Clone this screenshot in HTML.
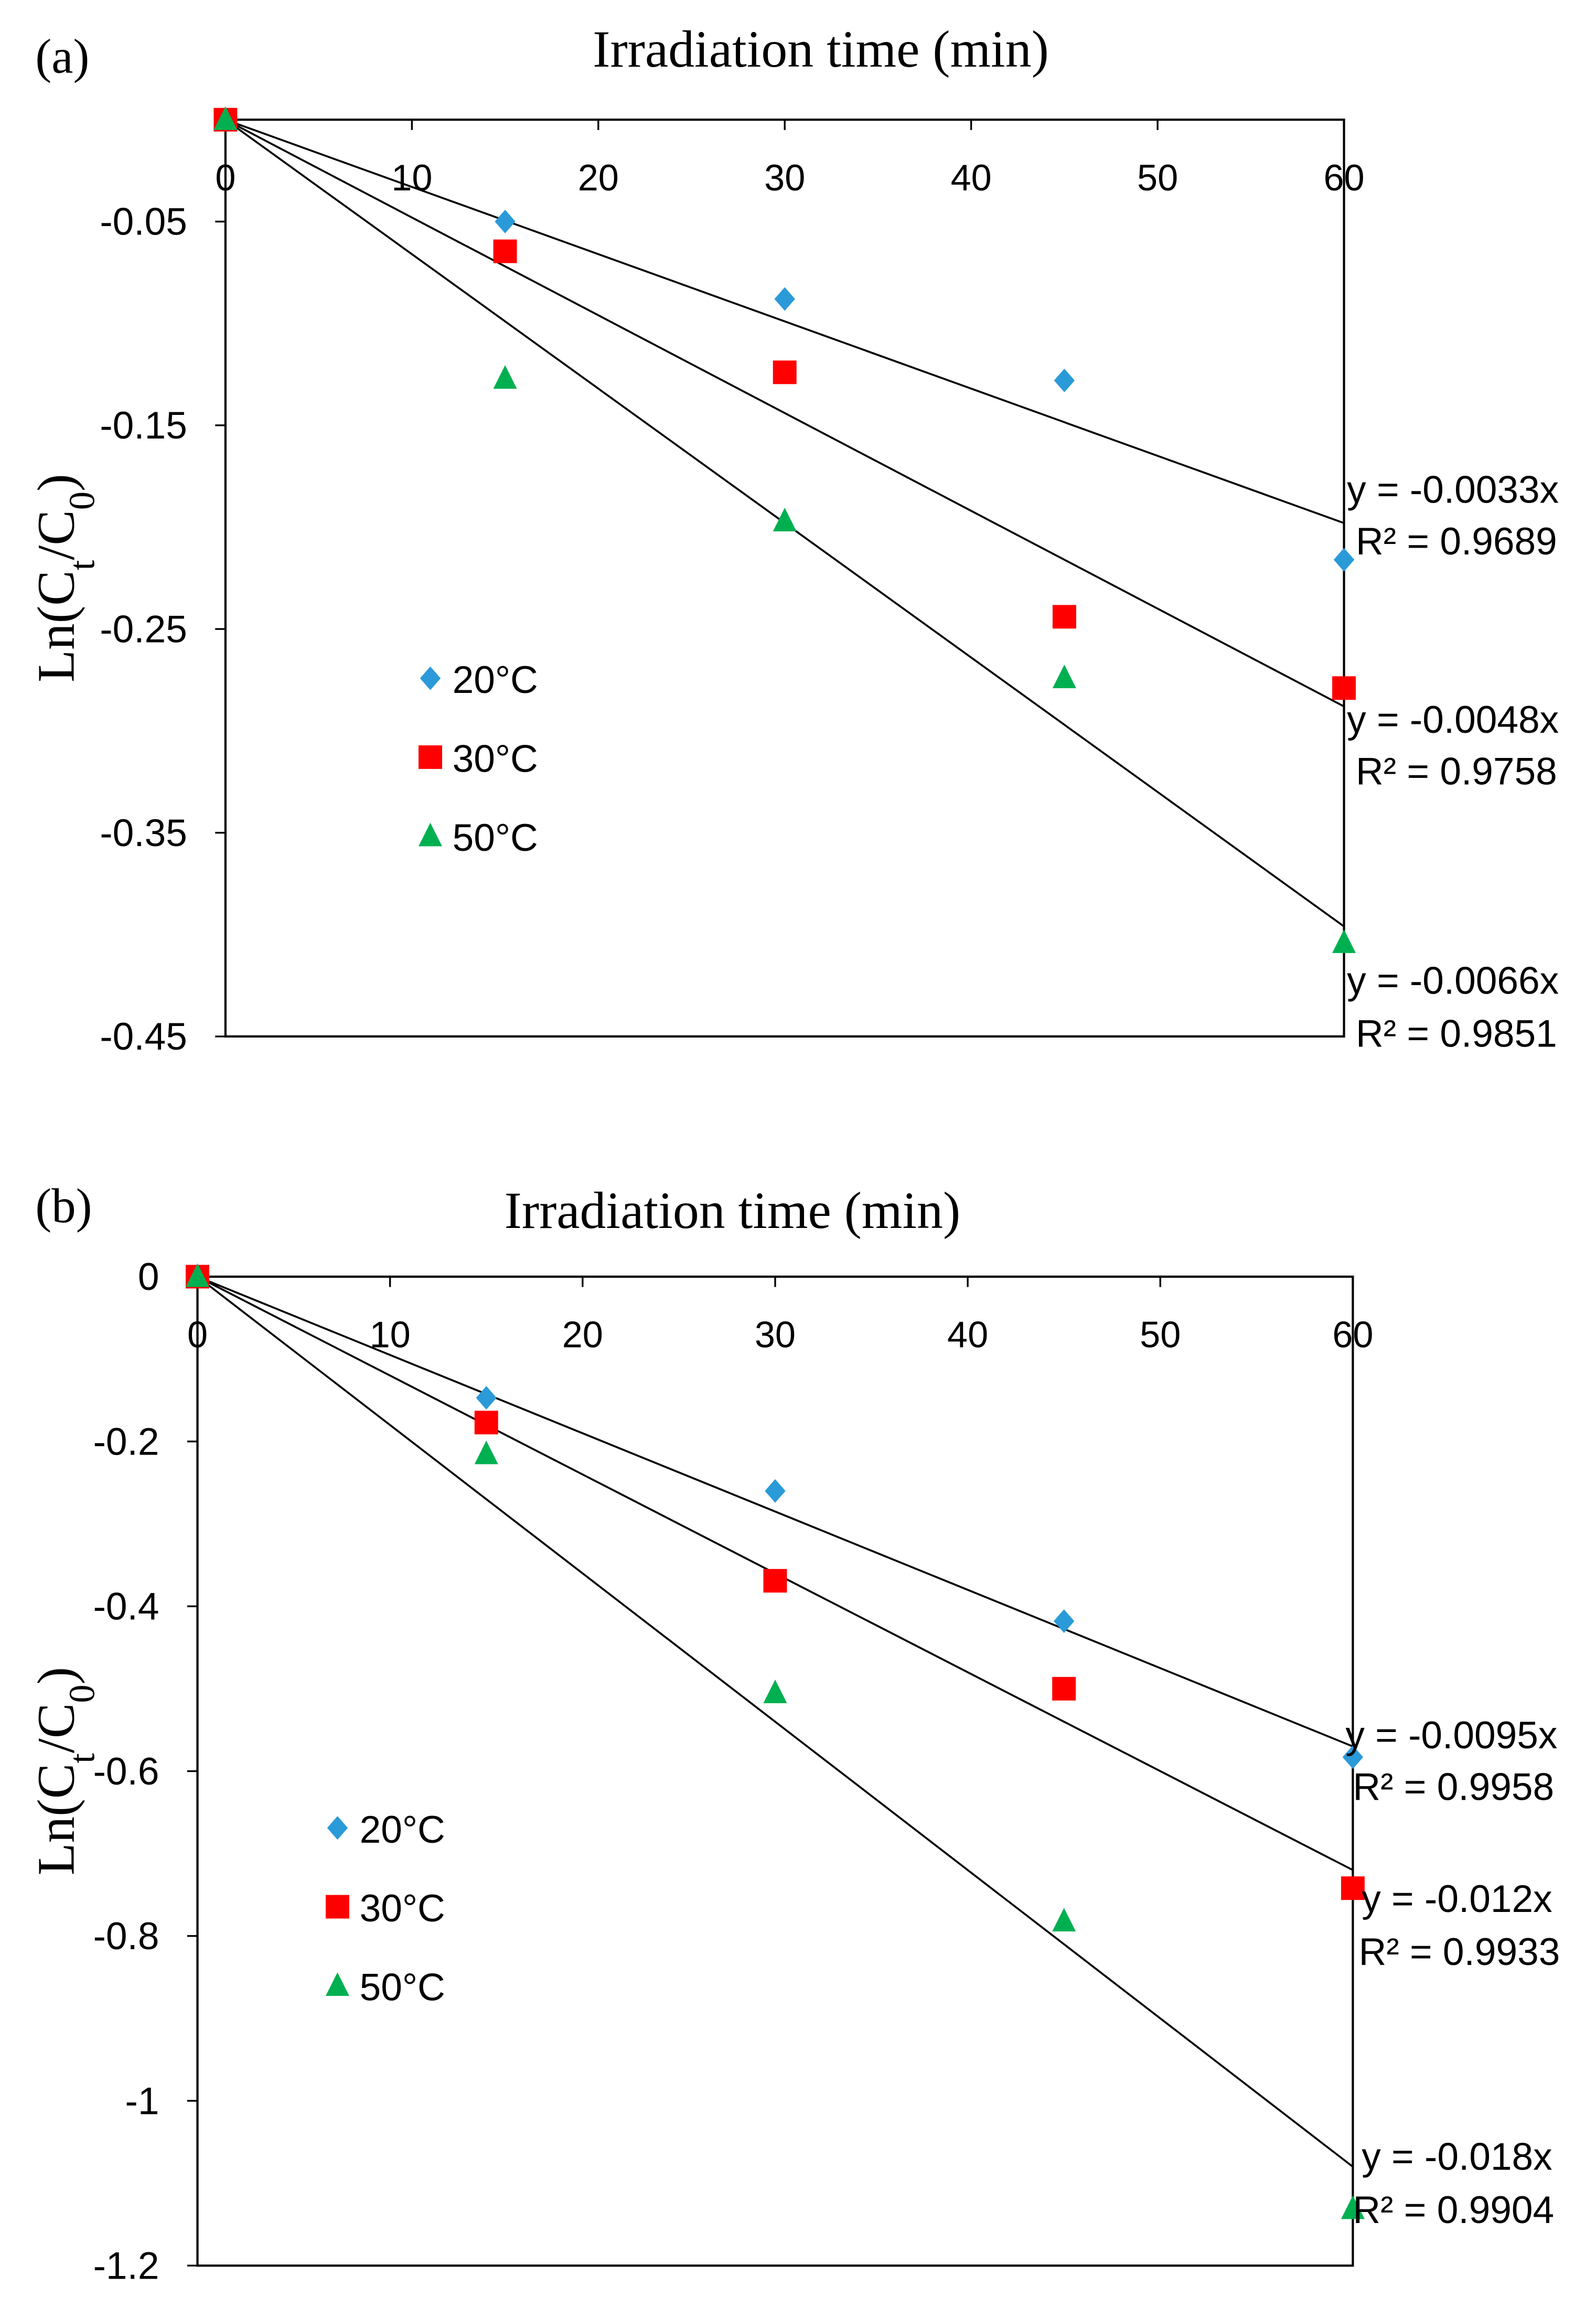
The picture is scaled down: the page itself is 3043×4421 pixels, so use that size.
<!DOCTYPE html>
<html><head><meta charset="utf-8"><style>
html,body{margin:0;padding:0;background:#fff;}
svg{display:block;}
</style></head><body>
<svg id="chart" width="3043" height="4421" viewBox="0 0 1083 1573" xmlns="http://www.w3.org/2000/svg">
<rect width="1083" height="1573" fill="#fff"/>
<g id="pa"></g>
<g id="pb"></g>
</svg>
<script>
const xCats = [0, 15, 30, 45, 60];
const xTicks = [0, 10, 20, 30, 40, 50, 60];
const seriesNames = ["20°C", "30°C", "50°C"];
const aSeries20 = [0, -0.050, -0.088, -0.128, -0.216];
const aSeries30 = [0, -0.0646, -0.124, -0.244, -0.279];
const aSeries50 = [0, -0.127, -0.197, -0.274, -0.404];
const aSlopes = [-0.0033, -0.0048, -0.0066];
const aEq = ["y = -0.0033x", "y = -0.0048x", "y = -0.0066x"];
const aR2 = ["R² = 0.9689", "R² = 0.9758", "R² = 0.9851"];
const aYTicks = [-0.05, -0.15, -0.25, -0.35, -0.45];
const aYTickLabels = ["-0.05", "-0.15", "-0.25", "-0.35", "-0.45"];
const bSeries20 = [0, -0.147, -0.260, -0.418, -0.583];
const bSeries30 = [0, -0.177, -0.369, -0.500, -0.742];
const bSeries50 = [0, -0.215, -0.505, -0.782, -1.131];
const bSlopes = [-0.0095, -0.012, -0.018];
const bEq = ["y = -0.0095x", "y = -0.012x", "y = -0.018x"];
const bR2 = ["R² = 0.9958", "R² = 0.9933", "R² = 0.9904"];
const bYTicks = [0, -0.2, -0.4, -0.6, -0.8, -1, -1.2];
const bYTickLabels = ["0", "-0.2", "-0.4", "-0.6", "-0.8", "-1", "-1.2"];

const NS = "http://www.w3.org/2000/svg";
const colors = ["#2A9AD8", "#FF0000", "#00B050"];
function mk(parent, tag, attrs, text) {
  const e = document.createElementNS(NS, tag);
  for (const k in attrs) e.setAttribute(k, attrs[k]);
  if (text !== undefined) e.textContent = text;
  parent.appendChild(e);
  return e;
}
function marker(g, kind, cx, cy, color) {
  let e;
  if (kind === 0) e = mk(g, "polygon", {points: `${cx},${cy-8} ${cx+7},${cy} ${cx},${cy+8} ${cx-7},${cy}`, fill: color});
  else if (kind === 1) e = mk(g, "rect", {x: cx-8, y: cy-8, width: 16, height: 16, fill: color});
  else e = mk(g, "polygon", {points: `${cx},${cy-9} ${cx+8},${cy+7} ${cx-8},${cy+7}`, fill: color});
  return e;
}
function panel(g, o) {
  const xs = v => o.left + (v - 0) / 60 * (o.right - o.left);
  const ys = v => o.top + (v - 0) / o.ymin * (o.bottom - o.top);
  let t = mk(g, "text", {x: 24, y: o.labelY, "font-family": "Liberation Serif, serif", "font-size": 33}, o.label);
  
  
  t = mk(g, "text", {x: o.titleX, y: o.titleY, "text-anchor": "middle", "font-family": "Liberation Serif, serif", "font-size": 35.5}, "Irradiation time (min)");
  
  
  t = mk(g, "text", {transform: `translate(50,${(o.top+o.bottom)/2}) rotate(-90)`, "text-anchor": "middle", "font-family": "Liberation Serif, serif", "font-size": 36});
  t.innerHTML = 'Ln(C<tspan baseline-shift="sub" font-size="25">t</tspan>/C<tspan baseline-shift="sub" font-size="25">0</tspan>)';
  
  
  const frame = mk(g, "rect", {x: o.left, y: o.top, width: o.right - o.left, height: o.bottom - o.top, fill: "none", stroke: "#000", "stroke-width": 1.5});
  
  
  xTicks.forEach(v => {
    const x = xs(v);
    const l = mk(g, "line", {x1: x, y1: o.top, x2: x, y2: o.top + 7, stroke: "#000", "stroke-width": 1.2});
    
    
    const tl = mk(g, "text", {x: x, y: o.top + 48, "text-anchor": "middle", "font-family": "Liberation Sans, sans-serif", "font-size": 25}, String(v));
    
    
  });
  o.yTicks.forEach((v, i) => {
    const y = ys(v);
    const l = mk(g, "line", {x1: o.left - 7, y1: y, x2: o.left, y2: y, stroke: "#000", "stroke-width": 1.2});
    
    
    const tl = mk(g, "text", {x: o.left - 26, y: y + 9, "text-anchor": "end", "font-family": "Liberation Sans, sans-serif", "font-size": 26}, o.yLabels[i]);
    
    
  });
  o.series.forEach((s, k) => {
    const ln = mk(g, "line", {x1: xs(0), y1: ys(0), x2: xs(60), y2: ys(o.slopes[k] * 60), stroke: "#000", "stroke-width": 1.3});
    
    
  });
  o.series.forEach((s, k) => {
    s.forEach((v, i) => {
      const m = marker(g, k, xs(xCats[i]), ys(v), colors[k]);
      
      
    });
  });
  o.series.forEach((s, k) => {
    const ly = o.legY + k * 53.5;
    const m = marker(g, k, o.legX, ly, colors[k]);
    
    
    const lt = mk(g, "text", {x: o.legX + 15, y: ly + 10, "font-family": "Liberation Sans, sans-serif", "font-size": 26}, seriesNames[k]);
    
    
  });
  o.eq.forEach((e, k) => {
    const p = o.eqPos[k];
    const t1 = mk(g, "text", {x: p[0], y: p[1], "font-family": "Liberation Sans, sans-serif", "font-size": 26}, e);
    
    
    const t2 = mk(g, "text", {x: p[2], y: p[3], "font-family": "Liberation Sans, sans-serif", "font-size": 26}, o.r2[k]);
    
    
  });
}
panel(document.getElementById("pa"), {
  label: "(a)", labelY: 49, titleX: 557, titleY: 45,
  left: 153, right: 912, top: 81, bottom: 703, ymin: -0.45,
  yTicks: aYTicks, yLabels: aYTickLabels,
  series: [aSeries20, aSeries30, aSeries50], slopes: aSlopes, eq: aEq, r2: aR2,
  legX: 292, legY: 460,
  eqPos: [[914, 341, 920, 376], [914, 497, 920, 532], [914, 674, 920, 710]]
});
panel(document.getElementById("pb"), {
  label: "(b)", labelY: 829, titleX: 497, titleY: 833,
  left: 134, right: 918, top: 866, bottom: 1537, ymin: -1.2,
  yTicks: bYTicks, yLabels: bYTickLabels,
  series: [bSeries20, bSeries30, bSeries50], slopes: bSlopes, eq: bEq, r2: bR2,
  legX: 229, legY: 1240,
  eqPos: [[913, 1186, 918, 1221], [924, 1297, 922, 1333], [924, 1472, 918, 1508]]
});
</script>
</body></html>
